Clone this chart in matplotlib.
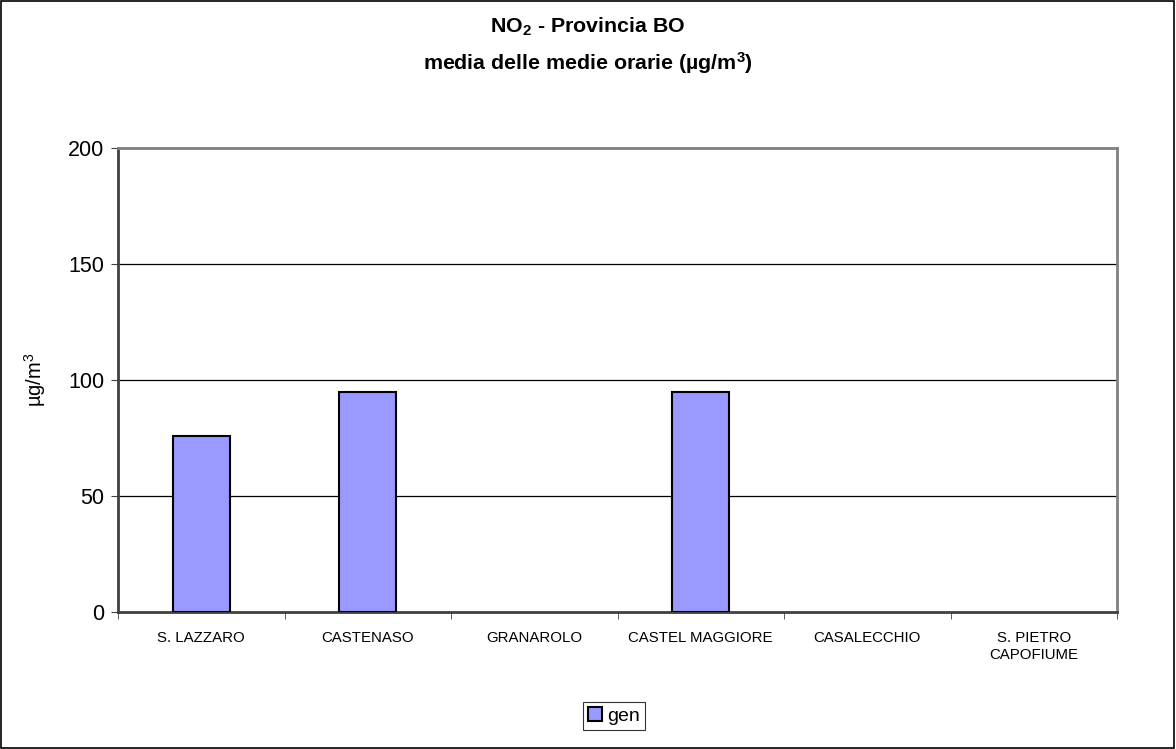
import numpy as np
import matplotlib.pyplot as plt
from matplotlib.patches import Rectangle

plt.rcParams['font.family'] = ['Liberation Sans', 'DejaVu Sans']
plt.rcParams['mathtext.default'] = 'regular'

stations = ['S. LAZZARO', 'CASTENASO', 'GRANAROLO', 'CASTEL MAGGIORE',
            'CASALECCHIO', 'S. PIETRO\nCAPOFIUME']
gen = [76, 95, 0, 95, 0, 0]
yticks = [0, 50, 100, 150, 200]

fig = plt.figure(figsize=(11.76, 7.49), dpi=100)
fig.patches.append(Rectangle((0.001, 0.002), 0.997, 0.996, transform=fig.transFigure,
                             fill=False, edgecolor='black', linewidth=1.2))

ax = fig.add_axes([118 / 1176, 1 - 612 / 749, (1117 - 118) / 1176, (612 - 148) / 749])
x = np.arange(len(stations))
# empty stations get no outline
lws = [1.5 if v > 0 else 0 for v in gen]
ax.bar(x, gen, width=0.34, color='#9999ff', edgecolor='black', linewidth=lws,
       label='gen', zorder=3)

ax.set_xlim(-0.5, len(stations) - 0.5)
ax.set_ylim(0, 200)
ax.set_yticks(yticks)
ax.set_yticklabels([str(v) for v in yticks], fontsize=15.5)
for v in yticks[1:-1]:
    ax.axhline(v, color='black', linewidth=0.9, zorder=1)

ax.set_xticks(x)
ax.set_xticklabels(stations, fontsize=10.8)
ax.tick_params(axis='x', length=0, pad=14)
ax.set_xticks(np.arange(len(stations) + 1) - 0.5, minor=True)
ax.tick_params(axis='x', which='minor', length=5, color='#404040', direction='out')
ax.tick_params(axis='y', length=5, color='#404040', direction='out', pad=5)

for side in ['top', 'right', 'bottom', 'left']:
    ax.spines[side].set_color('#808080')
    ax.spines[side].set_linewidth(2)
ax.spines['left'].set_color('#404040')
ax.spines['bottom'].set_color('#404040')

ax.set_ylabel('µg/m$^3$', fontsize=14.5, labelpad=14)

fig.text(0.5, 1 - 27 / 749, 'NO$_2$ - Provincia BO', ha='center', va='center',
         fontsize=15.4, fontweight='bold')
fig.text(0.5, 1 - 63 / 749, 'media delle medie orarie (µg/m$^3$)', ha='center', va='center',
         fontsize=15.4, fontweight='bold')

leg = fig.legend(loc='center', bbox_to_anchor=(614 / 1176, 1 - 716 / 749), fontsize=14,
                 frameon=True, fancybox=False, edgecolor='black', handlelength=0.7,
                 handleheight=0.7, handletextpad=0.3, borderpad=0.25)
leg.get_frame().set_linewidth(0.8)
leg.legend_handles[0].set_linewidth(1.5)

fig.savefig('out.png', dpi=100)
